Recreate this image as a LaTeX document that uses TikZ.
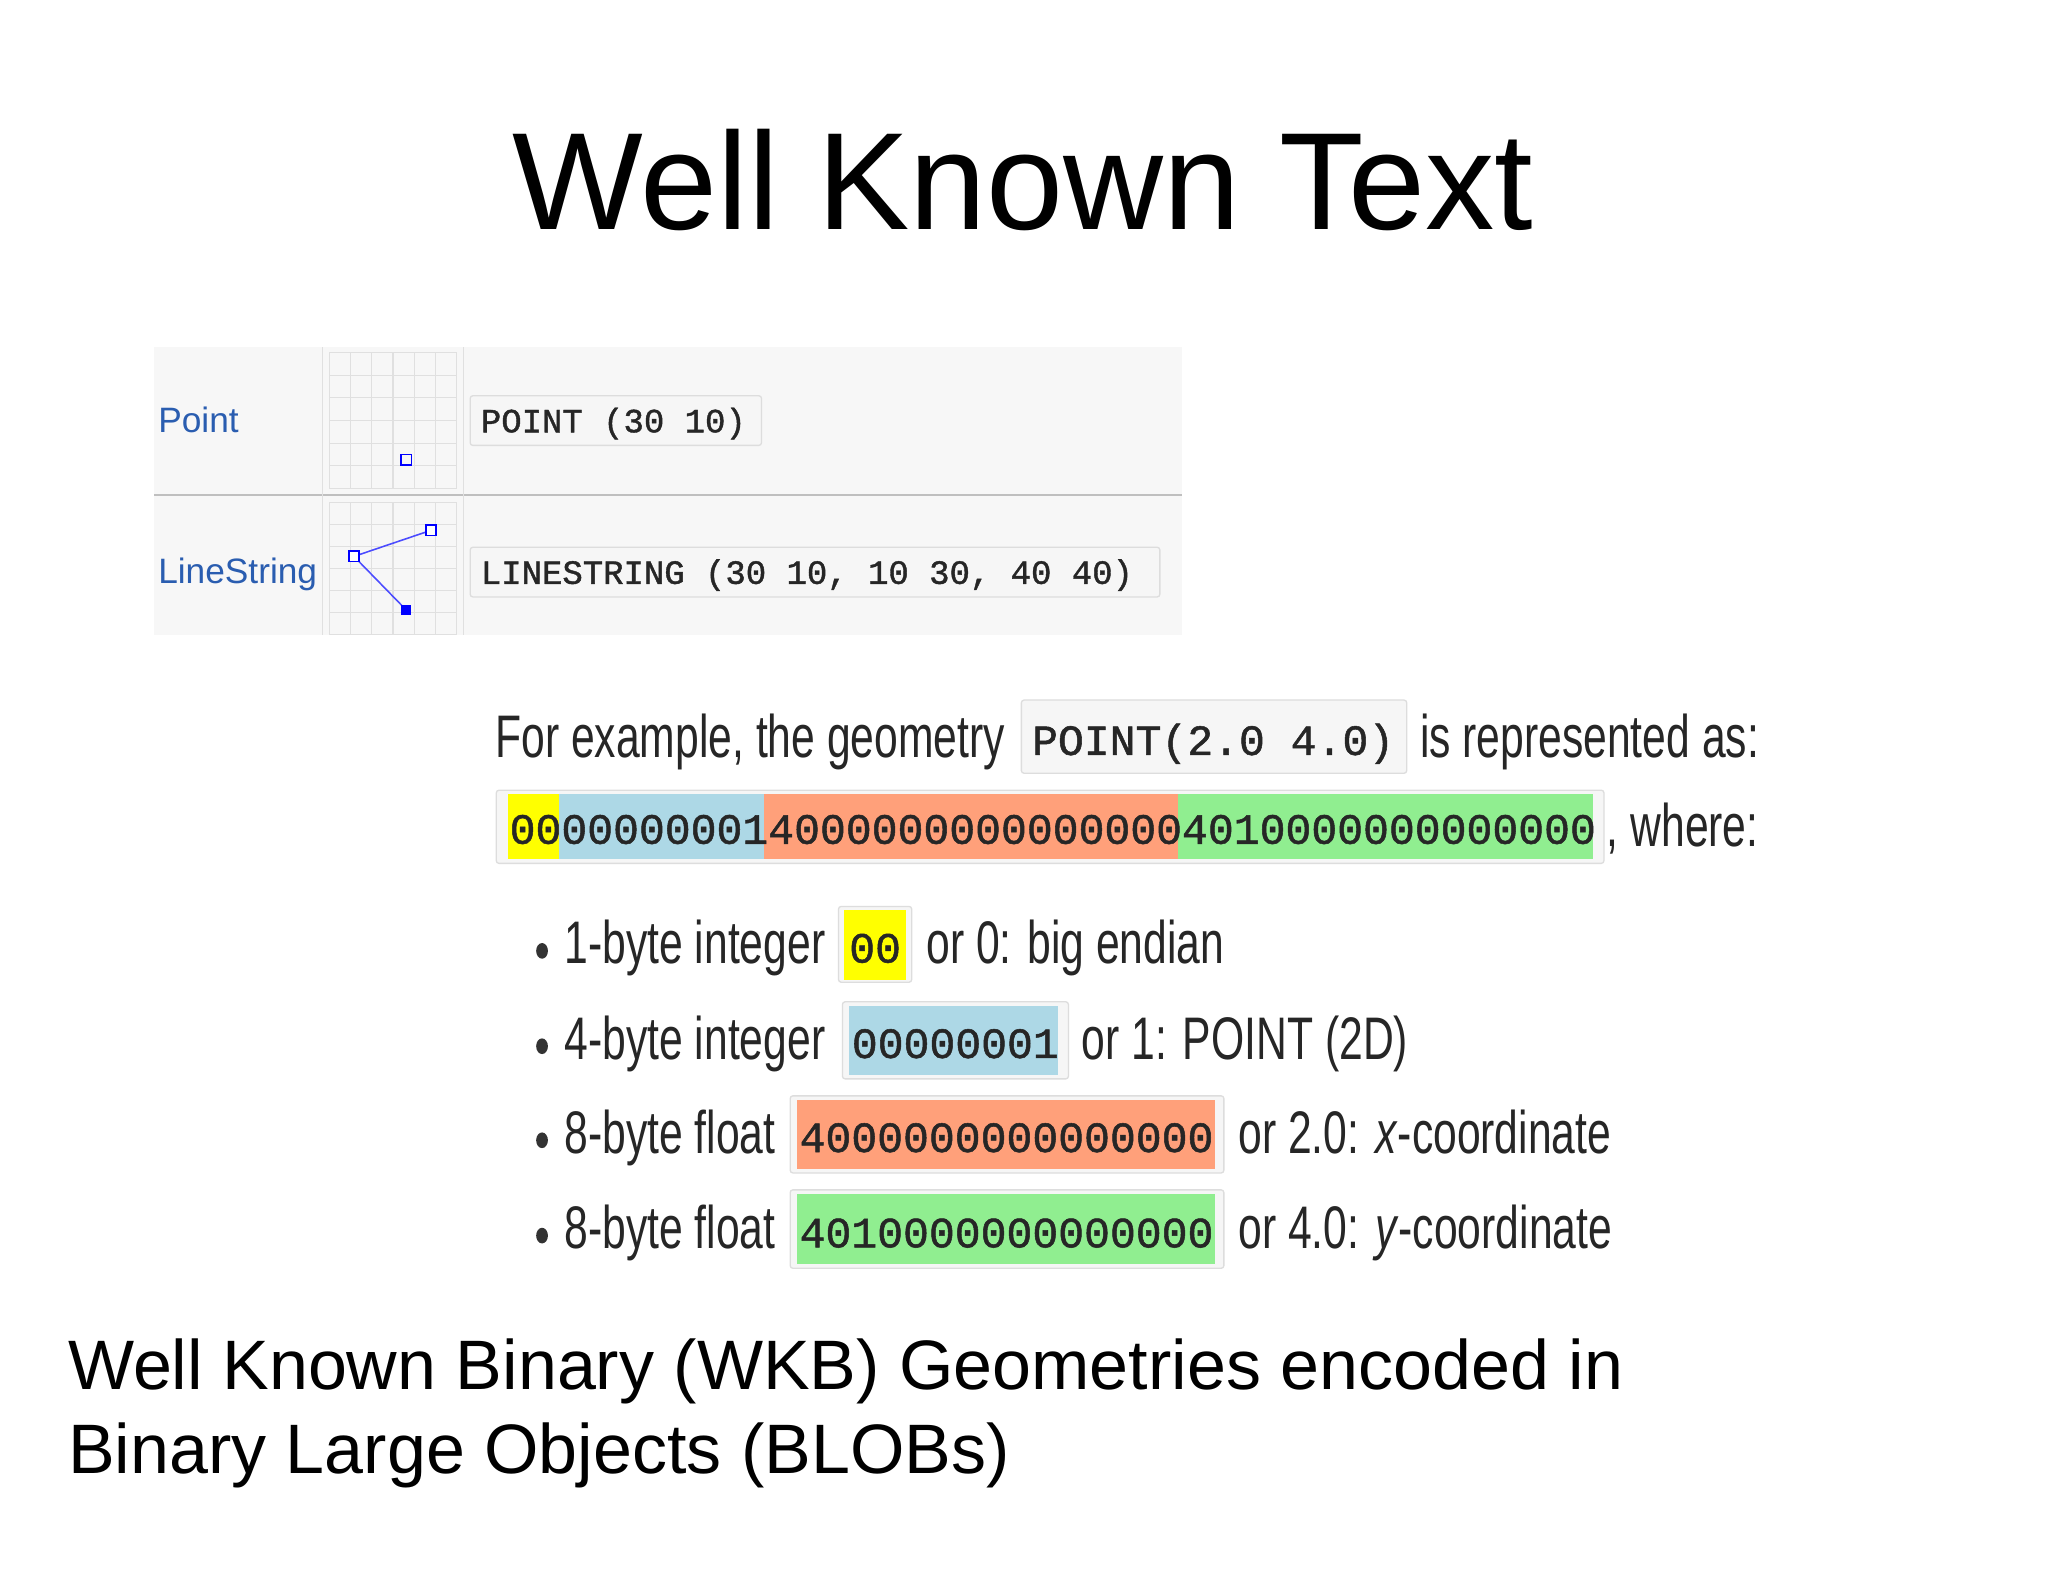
\documentclass[tikz,border=0pt]{standalone}
\usepackage{fontspec}
\setmainfont{Liberation Sans}
\newfontfamily\cond[FakeStretch=0.71]{Liberation Sans}
\newfontfamily\mono[FakeBold=1.2]{Liberation Mono}
\definecolor{lnk}{HTML}{2A5DB0}
\definecolor{hy}{HTML}{FFFF00}
\definecolor{hb}{HTML}{ADD8E6}
\definecolor{ho}{HTML}{FFA07A}
\definecolor{hg}{HTML}{90EE90}
\definecolor{bx}{HTML}{F6F6F6}
\definecolor{bxl}{HTML}{DDDDDD}
\tikzset{codebox/.style={fill=bx,draw=bxl,line width=1pt,rounded corners=2pt},
  txt/.style={anchor=base west,inner sep=0pt,text=black!85},
  gridln/.style={draw=black!12,line width=0.8pt}}
\begin{document}
\begin{tikzpicture}[x=1pt,y=-1pt]
\useasboundingbox[fill=white] (0,0) rectangle (1568,1211);
% title
\node[anchor=base,inner sep=0pt,font=\fontsize{106}{110}\selectfont] (title) at (783,176) {Well Known Text};
% table
\fill[black!3] (118,266) rectangle (905,486);
\draw[black!25,line width=1pt] (118,379) -- (905,379);
\draw[black!12,line width=1pt] (247,266) -- (247,486) (355,266) -- (355,486);
\foreach \y/\yy in {270/374,385/486}{
  \foreach \i in {0,...,6}{\draw[gridln] (252+\i*16.3,\y) -- (252+\i*16.3,\yy);}
  \foreach \j in {0,...,6}{\pgfmathsetmacro\q{\y+\j*(\yy-\y)/6}\draw[gridln] (252,\q) -- (350,\q);}
}
\draw[blue,line width=1.2pt] (307,348) rectangle (315,356);
\draw[blue!70,line width=1.2pt] (330,406) -- (271,426) -- (311,467);
\draw[blue,fill=white,line width=1.2pt] (326,402) rectangle (334,410);
\draw[blue,fill=white,line width=1.2pt] (267,422) rectangle (275,430);
\fill[blue] (307,463) rectangle (315,471);
\node[txt,text=lnk,font=\fontsize{27}{30}\selectfont] (pt) at (121,331) {Point};
\node[txt,text=lnk,font=\fontsize{27}{30}\selectfont] (ls) at (121,447) {LineString};
\draw[codebox] (360,303) rectangle (583,341);
\node[txt,font=\mono\fontsize{26}{30}\selectfont] (c1) at (368,331) {POINT (30 10)};
\draw[codebox] (360,419) rectangle (888,457);
\node[txt,font=\mono\fontsize{26}{30}\selectfont] (c2) at (368,447) {LINESTRING (30 10, 10 30, 40 40)};
% example line
\node[txt,font=\cond\fontsize{46}{50}\selectfont] (ex1) at (379,580) {For example, the geometry};
\draw[codebox] (782,536) rectangle (1077,592);
\node[txt,font=\mono\fontsize{33}{36}\selectfont] (ex2) at (790,578) {POINT(2.0 4.0)};
\node[txt,font=\cond\fontsize{46}{50}\selectfont] (ex3) at (1087,580) {is represented as:};
% hex row
\draw[codebox] (380,605) rectangle (1228,661);
\fill[hy] (389,608) rectangle (428,658);
\fill[hb] (428,608) rectangle (585,658);
\fill[ho] (585,608) rectangle (902,658);
\fill[hg] (902,608) rectangle (1220,658);
\node[txt,font=\mono\fontsize{33}{36}\selectfont] (hex) at (390,646) {000000000140000000000000004010000000000000};
\node[txt,font=\cond\fontsize{46}{50}\selectfont] (wh) at (1230,648) {, where:};
% bullets
\foreach \yy in {723,796,868,941}{\fill[black!80] (415,\yy+5) ellipse (4.5 and 6);}
\node[txt,font=\cond\fontsize{46}{50}\selectfont] (b1) at (432,738) {1-byte integer};
\draw[codebox] (642,694) rectangle (698,752);
\fill[hy] (646,697) rectangle (694,750);
\node[txt,font=\mono\fontsize{33}{36}\selectfont] (h1) at (650,737) {00};
\node[txt,font=\cond\fontsize{46}{50}\selectfont] (t1) at (709,738) {or 0: big endian};
\node[txt,font=\cond\fontsize{46}{50}\selectfont] (b2) at (432,811) {4-byte integer};
\draw[codebox] (645,767) rectangle (818,826);
\fill[hb] (650,770) rectangle (810,823);
\node[txt,font=\mono\fontsize{33}{36}\selectfont] (h2) at (652,810) {00000001};
\node[txt,font=\cond\fontsize{46}{50}\selectfont] (t2) at (828,811) {or 1: POINT (2D)};
\node[txt,font=\cond\fontsize{46}{50}\selectfont] (b3) at (432,883) {8-byte float};
\draw[codebox] (605,839) rectangle (937,898);
\fill[ho] (610,842) rectangle (930,895);
\node[txt,font=\mono\fontsize{33}{36}\selectfont] (h3) at (612,882) {4000000000000000};
\node[txt,font=\cond\fontsize{46}{50}\selectfont] (t3) at (948,883) {or 2.0: \textit{x}-coordinate};
\node[txt,font=\cond\fontsize{46}{50}\selectfont] (b4) at (432,956) {8-byte float};
\draw[codebox] (605,911) rectangle (937,971);
\fill[hg] (610,914) rectangle (930,968);
\node[txt,font=\mono\fontsize{33}{36}\selectfont] (h4) at (612,955) {4010000000000000};
\node[txt,font=\cond\fontsize{46}{50}\selectfont] (t4) at (948,956) {or 4.0: \textit{y}-coordinate};
% bottom
\node[txt,text=black,font=\fontsize{53.6}{66}\selectfont] (bot1) at (52,1064) {Well Known Binary (WKB) Geometries encoded in};
\node[txt,text=black,font=\fontsize{53.6}{66}\selectfont] (bot2) at (52,1128) {Binary Large Objects (BLOBs)};
\end{tikzpicture}
\end{document}
